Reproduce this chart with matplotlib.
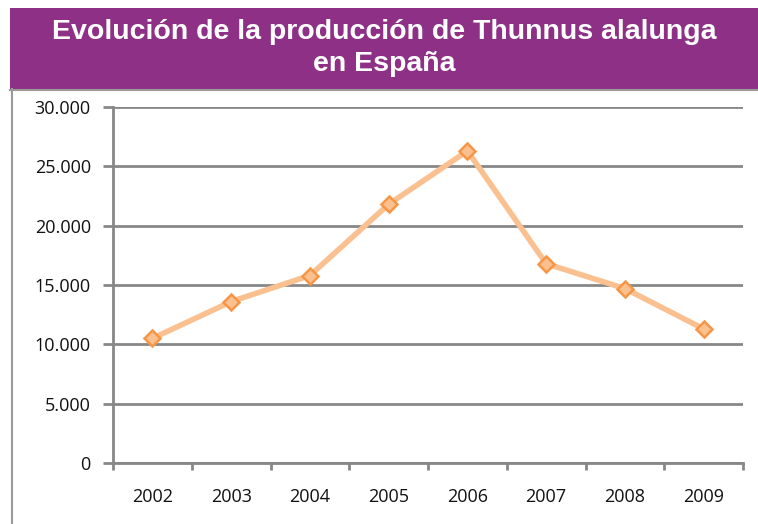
import matplotlib
matplotlib.use('Agg')
import matplotlib.pyplot as plt
from matplotlib.patches import Rectangle
from matplotlib.lines import Line2D
from matplotlib.ticker import FuncFormatter, FixedLocator

years = ['2002', '2003', '2004', '2005', '2006', '2007', '2008', '2009']
production = [10500, 13600, 15800, 21800, 26300, 16800, 14700, 11300]
title = 'Evolución de la producción de Thunnus alalunga\nen España'

W, H = 758, 524
fig = plt.figure(figsize=(W / 100, H / 100), dpi=100)

def px(x0, y0, x1, y1):
  # pixel box (top-left origin) -> figure fraction
  return [x0 / W, 1 - y1 / H, (x1 - x0) / W, (y1 - y0) / H]

# purple banner + frame line on the left
b = px(10, 8, 758, 89)
fig.patches.append(Rectangle((b[0], b[1]), b[2], b[3], transform=fig.transFigure,
                             facecolor='#8E3086', edgecolor='none'))
fig.lines.append(Line2D([10 / W, 1], [1 - 89.5 / H] * 2, transform=fig.transFigure,
                        color='#9a9a9a', lw=1.5))
fig.lines.append(Line2D([12 / W] * 2, [0, 1 - 89 / H], transform=fig.transFigure,
                        color='#9a9a9a', lw=1.5))
fig.text(384 / W, 1 - 48 / H, title, ha='center', va='center', color='white',
         fontsize=20.5, fontweight='bold', family='Liberation Sans', linespacing=1.3)

ax = fig.add_axes(px(113, 107, 743, 463))
x = list(range(len(years)))
ax.plot(x, production, color='#FAC090', lw=4, marker='D', ms=8,
        markerfacecolor='#FAC090', markeredgecolor='#F79646', markeredgewidth=1.8,
        zorder=3, clip_on=False)

ax.set_xlim(-0.5, len(years) - 0.5)
ax.set_ylim(0, 30000)
ax.set_yticks(range(0, 30001, 5000))
ax.yaxis.set_major_formatter(FuncFormatter(lambda v, p: f'{int(v):,}'.replace(',', '.')))
ax.set_xticks(x)
ax.set_xticklabels(years)
ax.xaxis.set_minor_locator(FixedLocator([i - 0.5 for i in range(len(years) + 1)]))

grid_c = '#878787'
ax.grid(axis='y', color=grid_c, lw=2)
ax.set_axisbelow(True)
for s in ['top', 'right']:
  ax.spines[s].set_visible(False)
for s in ['left', 'bottom']:
  ax.spines[s].set_color(grid_c)
  ax.spines[s].set_linewidth(2)

ax.tick_params(axis='y', length=7, width=2, color=grid_c, pad=9, labelsize=13)
ax.tick_params(axis='x', which='major', length=0, pad=18, labelsize=13)
ax.tick_params(axis='x', which='minor', length=5, width=2, color=grid_c)
for lbl in ax.get_xticklabels() + ax.get_yticklabels():
  lbl.set_family('Open Sans')
  lbl.set_color('#111111')

fig.savefig('out.png', dpi=100)
